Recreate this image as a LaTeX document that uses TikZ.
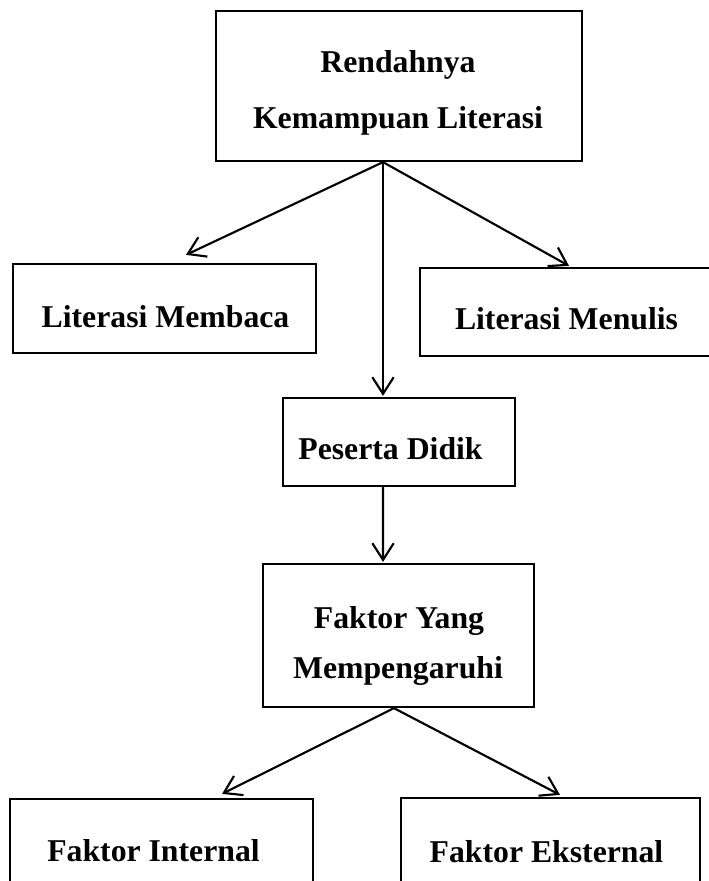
\documentclass[tikz,border=0pt]{standalone}
\usepackage{fontspec}
\setmainfont{Liberation Serif}
\usetikzlibrary{arrows.meta}
\begin{document}
\begin{tikzpicture}[x=0.75pt,y=-0.75pt,
  box/.style={draw,line width=1.7pt,rectangle,inner sep=0pt},
  lbl/.style={anchor=base,inner sep=0pt,font=\fontsize{23.8}{28}\selectfont\bfseries},
  arr/.style={line width=1.6pt,-{Straight Barb[length=12.5pt,width=16pt,line width=1.6pt]}}]
\useasboundingbox (0,0) rectangle (708,881);
% boxes
\node[box,minimum width=274.5pt,minimum height=112.5pt] (top) at (399,86) {};
\node[box,minimum width=227.25pt,minimum height=66.75pt] (lm) at (164.5,308.5) {};
\node[box,minimum width=217.5pt,minimum height=66pt] (lw) at (565,312) {};
\node[box,minimum width=174pt,minimum height=66pt] (pd) at (399,442) {};
\node[box,minimum width=203.25pt,minimum height=107.25pt] (fy) at (398.5,635.5) {};
\node[box,minimum width=227.25pt,minimum height=91.5pt] (fi) at (161.5,860) {};
\node[box,minimum width=224.25pt,minimum height=91.5pt] (fe) at (550.5,859) {};
% texts
\node[lbl] (t1a) at (398,73) {Rendahnya};
\node[lbl] (t1b) at (398,128) {Kemampuan Literasi};
\node[lbl] (t2) at (165.5,327) {Literasi Membaca};
\node[lbl] (t3) at (566.5,329) {Literasi Menulis};
\node[lbl] (t4) at (390.5,459) {Peserta Didik};
\node[lbl] (t5a) at (399,628) {Faktor Yang};
\node[lbl] (t5b) at (398,678) {Mempengaruhi};
\node[lbl] (t6) at (153.5,861) {Faktor Internal};
\node[lbl] (t7) at (546.5,862) {Faktor Eksternal};
% connector points
\coordinate (o1) at ([xshift=-12pt]top.south);
\coordinate (o2) at ([xshift=-12pt]pd.south);
\coordinate (o3) at ([xshift=-3.4pt]fy.south);
% arrows
\draw[arr] (o1) -- ([xshift=16.1pt,yshift=6pt]lm.north);
\draw[arr] (o1) -- ([xshift=-12pt,yshift=0.75pt]pd.north);
\draw[arr] (o1) -- ([xshift=3pt,yshift=0.75pt]lw.north);
\draw[arr] (o2) -- ([xshift=-11.6pt,yshift=0.75pt]fy.north);
\draw[arr] (o3) -- ([xshift=45.4pt,yshift=3pt]fi.north);
\draw[arr] (o3) -- ([xshift=7.1pt,yshift=1.5pt]fe.north);
\end{tikzpicture}
\end{document}
